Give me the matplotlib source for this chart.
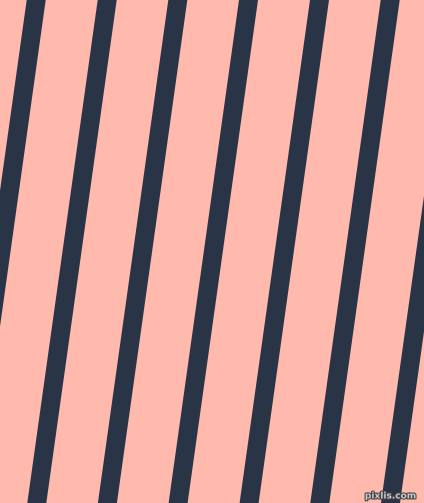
import matplotlib
matplotlib.use("Agg")
import matplotlib.pyplot as plt

PINK = "#ffb9ad"
NAVY = "#293447"

W, H = 424, 503

# left edge of each stripe along the top row (pixels)
stripe_top_left = [26.7, 97.7, 168.3, 239.0, 310.0, 380.7, 451.4]
stripe_width = 19.0
# horizontal drift of a stripe from top to bottom (about 8 degrees off vertical)
drift = 70.4

fig = plt.figure(figsize=(W / 100, H / 100), dpi=100, facecolor=PINK)
ax = fig.add_axes([0, 0, 1, 1])
ax.set_facecolor(PINK)

for x0 in stripe_top_left:
    xs = [x0, x0 + stripe_width, x0 + stripe_width - drift, x0 - drift]
    ys = [0, 0, H, H]
    ax.fill(xs, ys, color=NAVY, lw=0, antialiased=True)

ax.set_xlim(0, W)
ax.set_ylim(H, 0)
ax.axis("off")

# watermark
ax.text(416, 496, "pixlis.com", ha="right", va="center", fontsize=6.5,
        color="#c8c8c8", fontweight="bold",
        path_effects=[__import__("matplotlib.patheffects", fromlist=["x"]).withStroke(linewidth=1.5, foreground="#444444")])

fig.savefig("out.png", dpi=100, facecolor=PINK)
